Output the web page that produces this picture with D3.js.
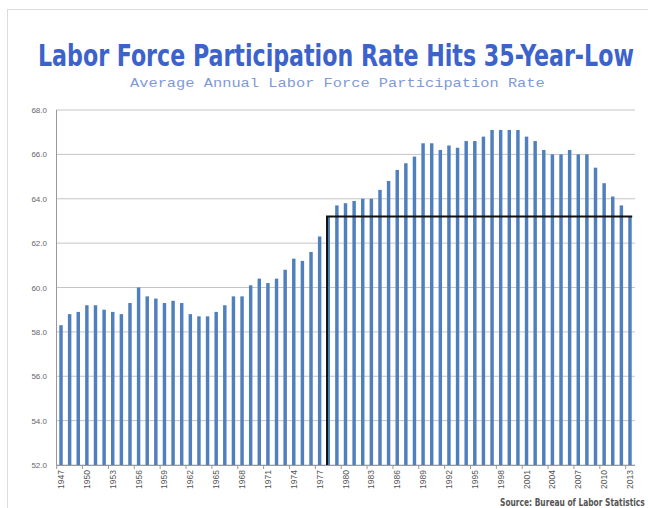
<!DOCTYPE html>
<html>
<head>
<meta charset="utf-8">
<script src="https://cdn.jsdelivr.net/npm/d3@7"></script>
<style>
  body { margin: 0; background: #fff; }
  svg { display: block; }
</style>
</head>
<body>
<script>
// Average annual labor force participation rate, 1947-2013
const years = d3.range(1947, 2014);
const rates = [
  58.3, 58.8, 58.9, 59.2, 59.2, 59.0, 58.9, 58.8, 59.3, 60.0,
  59.6, 59.5, 59.3, 59.4, 59.3, 58.8, 58.7, 58.7, 58.9, 59.2,
  59.6, 59.6, 60.1, 60.4, 60.2, 60.4, 60.8, 61.3, 61.2, 61.6,
  62.3, 63.2, 63.7, 63.8, 63.9, 64.0, 64.0, 64.4, 64.8, 65.3,
  65.6, 65.9, 66.5, 66.5, 66.2, 66.4, 66.3, 66.6, 66.6, 66.8,
  67.1, 67.1, 67.1, 67.1, 66.8, 66.6, 66.2, 66.0, 66.0, 66.2,
  66.0, 66.0, 65.4, 64.7, 64.1, 63.7, 63.2
];
const yTicks = [52, 54, 56, 58, 60, 62, 64, 66, 68];
const labelYears = years.filter((d, i) => i % 3 === 0);
const lowStart = 1978;
const lowEnd = 2013;

const width = 648, height = 508;

const svg = d3.select("body").append("svg")
    .attr("width", width)
    .attr("height", height);

// light frame
svg.append("rect")
    .attr("x", 7.5).attr("y", 9.5)
    .attr("width", 700).attr("height", 600)
    .attr("fill", "#fff")
    .attr("stroke", "#dcdcdc");

const x = d3.scaleBand()
    .domain(years)
    .range([56.7, 634.3])
    .paddingInner(0.6)
    .paddingOuter(0.3);

const y = d3.scaleLinear()
    .domain([52, 68])
    .range([465, 110]);

// gridlines
svg.append("g")
    .selectAll("line")
    .data(yTicks)
    .join("line")
    .attr("x1", 56).attr("x2", 635)
    .attr("y1", d => y(d)).attr("y2", d => y(d))
    .attr("stroke", "#c4c4c4")
    .attr("stroke-width", 1);

// y labels
svg.append("g")
    .selectAll("text")
    .data(yTicks)
    .join("text")
    .attr("x", 47)
    .attr("y", d => y(d) + 3)
    .attr("text-anchor", "end")
    .attr("font-family", "Liberation Sans, sans-serif")
    .attr("font-size", 8)
    .attr("fill", "#666")
    .text(d => d.toFixed(1));

// bars
svg.append("g")
    .selectAll("rect")
    .data(years)
    .join("rect")
    .attr("x", d => x(d))
    .attr("width", x.bandwidth())
    .attr("y", (d, i) => y(rates[i]))
    .attr("height", (d, i) => y(52) - y(rates[i]))
    .attr("fill", "#4f7fbc");

// axis lines
svg.append("line")
    .attr("x1", 56.5).attr("x2", 56.5)
    .attr("y1", 110).attr("y2", 466)
    .attr("stroke", "#999");
svg.append("line")
    .attr("x1", 56).attr("x2", 635)
    .attr("y1", 465.5).attr("y2", 465.5)
    .attr("stroke", "#999");

// x tick marks
const step = x.step();
svg.append("g")
    .selectAll("line")
    .data(labelYears)
    .join("line")
    .attr("x1", d => x(d) + x.bandwidth() / 2 - step / 2)
    .attr("x2", d => x(d) + x.bandwidth() / 2 - step / 2)
    .attr("y1", 465).attr("y2", 469)
    .attr("stroke", "#999");

// x labels
svg.append("g")
    .selectAll("text")
    .data(labelYears)
    .join("text")
    .attr("transform", d => `translate(${x(d) + x.bandwidth() / 2 + 3},470) rotate(-90)`)
    .attr("text-anchor", "end")
    .attr("font-family", "Liberation Sans, sans-serif")
    .attr("font-size", 8.5)
    .attr("fill", "#555")
    .text(d => d);

// 35-year-low line
const iEnd = years.indexOf(lowEnd);
svg.append("path")
    .attr("d", d3.line()([
      [x(lowStart) + 0.5, y(52)],
      [x(lowStart) + 0.5, y(rates[iEnd])],
      [x(lowEnd) + x.bandwidth() + 0.5, y(rates[iEnd])]
    ]))
    .attr("fill", "none")
    .attr("stroke", "#111")
    .attr("stroke-width", 2);

// squeeze a text horizontally to a given width, keeping its height
function fitText(sel, left, base, w) {
  const natural = sel.node().getComputedTextLength();
  sel.attr("transform", `translate(${left},${base}) scale(${w / natural},1)`);
}

const title = svg.append("text")
    .attr("font-family", "Liberation Sans Narrow, DejaVu Sans Condensed, sans-serif")
    .attr("font-weight", "bold")
    .attr("font-size", 30)
    .attr("fill", "#3c62cc")
    .text("Labor Force Participation Rate Hits 35-Year-Low");
fitText(title, 38, 66, 596);

const subtitle = svg.append("text")
    .attr("font-family", "Liberation Mono, monospace")
    .attr("font-size", 12.5)
    .attr("fill", "#7f9ad6")
    .text("Average Annual Labor Force Participation Rate");
fitText(subtitle, 130, 87, 415);

const source = svg.append("text")
    .attr("font-family", "Liberation Sans Narrow, DejaVu Sans Condensed, sans-serif")
    .attr("font-weight", "bold")
    .attr("font-size", 10)
    .attr("fill", "#555")
    .text("Source: Bureau of Labor Statistics");
fitText(source, 500, 506, 145);
</script>
</body>
</html>
